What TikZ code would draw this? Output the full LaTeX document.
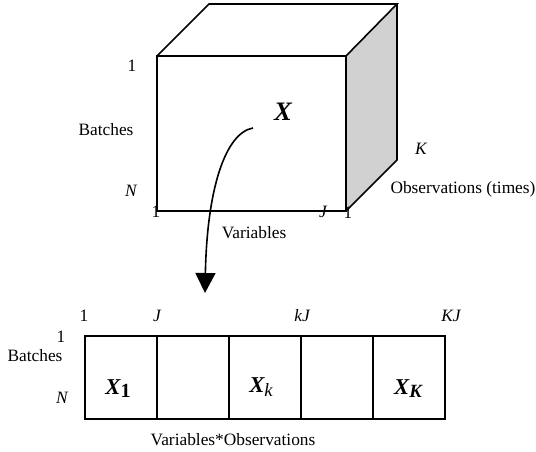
\documentclass[tikz,border=0pt]{standalone}
\usepackage{fontspec}
\setmainfont{Liberation Serif}
\usetikzlibrary{arrows.meta}
\begin{document}
\begin{tikzpicture}[x=0.75pt,y=-0.75pt,
  lbl/.style={inner sep=0pt, font=\fontsize{13}{15}\selectfont},
  ilbl/.style={inner sep=0pt, font=\fontsize{13}{15}\selectfont\itshape},
  big/.style={inner sep=0pt, font=\fontsize{20}{22}\selectfont\bfseries\itshape},
  mid/.style={inner sep=0pt, font=\fontsize{17}{19}\selectfont\bfseries\itshape},
  edge/.style={line width=1.2pt, line join=miter},
  cell/.style={draw, line width=1.2pt, minimum width=54pt, minimum height=62.25pt, inner sep=0pt}]
\useasboundingbox (0,0) rectangle (536,452);
% cube
\coordinate (ftl) at (157,56);
\coordinate (ftr) at (346,56);
\coordinate (fbr) at (346,211);
\coordinate (fbl) at (157,211);
\coordinate (btl) at (209,4);
\coordinate (btr) at (397,4);
\coordinate (bbr) at (397,160);
\fill[black!18] (ftr) -- (btr) -- (bbr) -- (fbr) -- cycle;
\draw[edge] (fbl) rectangle (ftr);
\draw[edge] (ftl) -- (btl) -- (btr) -- (ftr);
\draw[edge] (btr) -- (bbr) -- (fbr);
% cube labels
\node[lbl] (c1) at (132,66) {1};
\node[lbl] (cb) at (106,130) {Batches};
\node[ilbl] (cn) at (131,191) {N};
\node[lbl] (c1b) at (156,212) {1};
\node[ilbl] (cj) at (323,212) {J};
\node[lbl] (c1c) at (348,213) {1};
\node[lbl] (cv) at (254,233) {Variables};
\node[ilbl] (ck) at (421,149) {K};
\node[lbl] (co) at (463,189) {Observations (times)};
\node[big] (X) at (283,112) {X};
% arrow
\coordinate (as) at (253,128);
\coordinate (ae) at (205,293);
\draw[line width=1.2pt, -{Triangle[width=15pt,length=15pt]}] (as) .. controls (225,133) and (207,190) .. (ae);
% unfolded matrix
\node[cell] (m1) at (121,377.5) {};
\node[cell] (m2) at (193,377.5) {};
\node[cell] (m3) at (265,377.5) {};
\node[cell] (m4) at (337,377.5) {};
\node[cell] (m5) at (409,377.5) {};
\node[mid] (x1) at (118,389) {X\raisebox{-0.3ex}{\fontsize{15}{16}\selectfont\upshape 1}};
\node[mid] (xk) at (261,387) {X\raisebox{-0.45ex}{\fontsize{14}{15}\selectfont\mdseries k}};
\node[mid] (xK) at (408,389) {X\raisebox{-0.3ex}{\fontsize{14}{15}\selectfont K}};
\node[lbl] (t1) at (84,316) {1};
\node[ilbl] (tj) at (157,316) {J};
\node[ilbl] (tkj) at (302,316) {kJ};
\node[ilbl] (tKJ) at (451,316) {KJ};
\node[lbl] (r1) at (61,337) {1};
\node[lbl] (rb) at (35,356) {Batches};
\node[ilbl] (rn) at (62,398) {N};
\node[lbl] (mv) at (233,440) {Variables*Observations};
\end{tikzpicture}
\end{document}
